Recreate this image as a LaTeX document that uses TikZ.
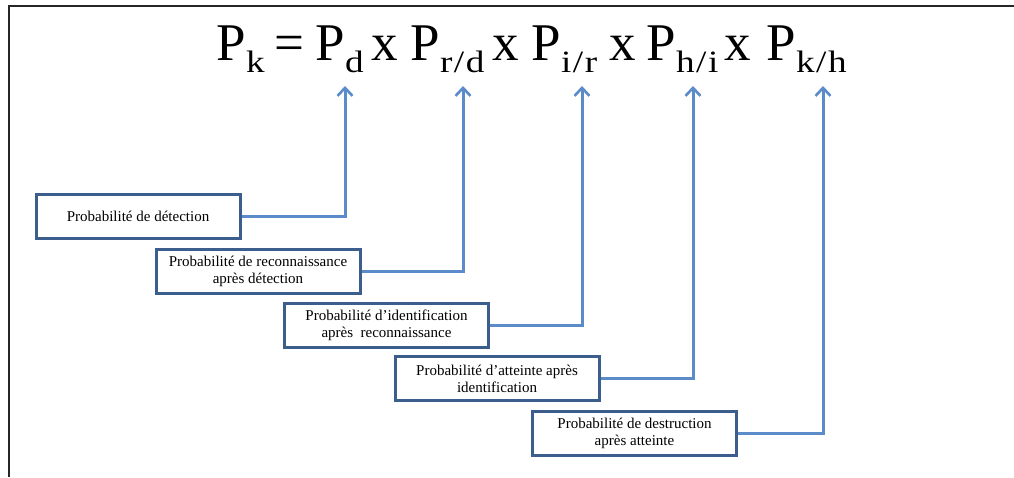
\documentclass[tikz,border=0pt]{standalone}
\usepackage{fontspec}
\setmainfont{Liberation Serif}
\usetikzlibrary{arrows.meta}
\definecolor{boxblue}{HTML}{3B5E8C}
\definecolor{linkblue}{HTML}{5B8BC8}
\tikzset{
  fm/.style={font=\fontsize{53}{60}\selectfont, inner sep=0pt, anchor=base west},
  fs/.style={font=\fontsize{31}{36}\selectfont\addfontfeatures{FakeStretch=1.2,LetterSpace=5}, inner sep=0pt, anchor=base west},
  probbox/.style={draw=boxblue, line width=3pt, fill=white, minimum width=204pt,
    minimum height=44pt, align=center, inner sep=2pt,
    font=\fontsize{15}{17}\selectfont},
  conn/.style={draw=linkblue, line width=3pt, -{Straight Barb[length=8pt,width=15pt,line width=2.6pt]}},
  frameline/.style={draw=black!85, line width=2pt}
}
\begin{document}
\begin{tikzpicture}[x=1pt,y=-1pt]
\useasboundingbox (0,0) rectangle (1014,477);
\fill[white] (0,0) rectangle (1014,477);
% frame
\coordinate (fa) at (9,477);
\coordinate (fb) at (9,6);
\coordinate (fc) at (1014,6);
\draw[frameline] (fa) -- (fb) -- (fc);
% formula
\node[fm] (p1) at (216,60) {P};
\node[fs] (s1) at ([yshift=-12.5pt]p1.base east) {k};
\node[fm] (eq) at (274,60) {=};
\node[fm] (p2) at (315,60) {P};
\node[fs] (s2) at ([yshift=-12.5pt]p2.base east) {d};
\node[fm] (x1) at (371,60) {x};
\node[fm] (p3) at (410,60) {P};
\node[fs] (s3) at ([yshift=-12.5pt]p3.base east) {r/d};
\node[fm] (x2) at (492,60) {x};
\node[fm] (p4) at (531,60) {P};
\node[fs] (s4) at ([yshift=-12.5pt]p4.base east) {i/r};
\node[fm] (x3) at (609,60) {x};
\node[fm] (p5) at (646,60) {P};
\node[fs] (s5) at ([yshift=-12.5pt]p5.base east) {h/i};
\node[fm] (x4) at (724,60) {x};
\node[fm] (p6) at (766,60) {P};
\node[fs] (s6) at ([yshift=-12.5pt]p6.base east) {k/h};
% arrow tips
\coordinate (t1) at (345,86);
\coordinate (t2) at (463,86);
\coordinate (t3) at (582,86);
\coordinate (t4) at (693,86);
\coordinate (t5) at (823,86);
% boxes
\node[probbox] (b1) at (138,216.5) {Probabilité de détection};
\node[probbox] (b2) at (258,271.5) {Probabilité de reconnaissance\\après détection};
\node[probbox] (b3) at (386.5,325) {Probabilité d’identification\\après\ \ reconnaissance};
\node[probbox] (b4) at (497,378.5) {Probabilité d’atteinte après\\identification};
\node[probbox] (b5) at (634.5,433) {Probabilité de destruction\\après atteinte};
% connectors
\draw[conn] (b1.east) -| (t1);
\draw[conn] (b2.east) -| (t2);
\draw[conn] (b3.east) -| (t3);
\draw[conn] (b4.east) -| (t4);
\draw[conn] (b5.east) -| (t5);
\end{tikzpicture}
\end{document}
